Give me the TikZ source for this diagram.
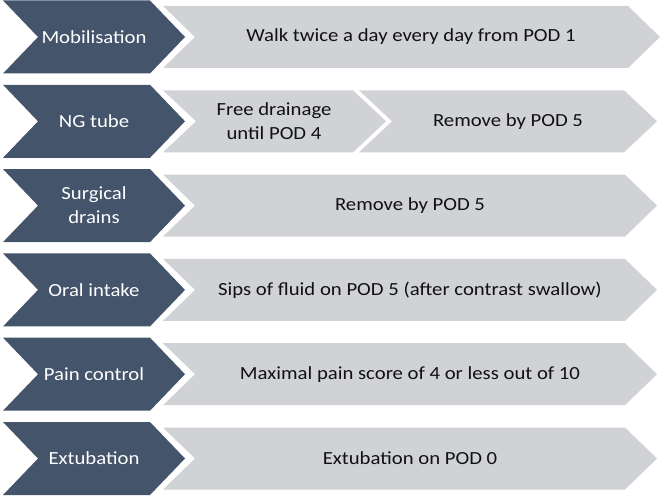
\documentclass[tikz,border=0pt]{standalone}
\usepackage{fontspec}
\setmainfont{Carlito}[FakeStretch=1.12]
\definecolor{navy}{HTML}{44546A}
\definecolor{lgray}{HTML}{D0D2D5}
\definecolor{ink}{HTML}{111111}
\newcommand\chev[6]{% colour, xl, xr, yc, half-height, depth
  \fill[#1] (#2,#4+#5) -- (#3-#6,#4+#5) -- (#3,#4) -- (#3-#6,#4-#5) -- (#2,#4-#5) -- (#2+#6,#4) -- cycle;}
\tikzset{
  lbl/.style={text=white, font=\fontsize{18.5}{24}\selectfont, align=center, inner sep=0pt},
  val/.style={text=ink, font=\fontsize{18.5}{24}\selectfont, align=center, inner sep=0pt}
}
\begin{document}
\begin{tikzpicture}[x=1pt,y=1pt]
\useasboundingbox (0,0) rectangle (660,496);
\foreach \i/\l in {0/Mobilisation,1/NG tube,2/{Surgical\\drains},3/Oral intake,4/Pain control,5/Extubation}{
  \pgfmathsetmacro\yc{496-37-84.3*\i}
  \chev{navy}{3}{185}{\yc}{36.5}{35}
  \node[lbl] (k\i) at (94,\yc) {\l};
}
% row 1
\pgfmathsetmacro\ya{496-37}
\chev{lgray}{163}{660}{\ya}{31}{32}
\node[val] (v0) at (411,\ya) {Walk twice a day every day from POD 1};
% row 2
\pgfmathsetmacro\yb{496-37-84.3}
\chev{lgray}{163}{386}{\yb}{31}{33}
\chev{lgray}{359}{657}{\yb}{31}{33}
\node[val] (v1a) at (274,\yb) {Free drainage\\until POD 4};
\node[val] (v1b) at (508,\yb) {Remove by POD 5};
% row 3
\pgfmathsetmacro\yc{496-37-84.3*2}
\chev{lgray}{163}{657}{\yc}{31}{32}
\node[val] (v2) at (410,\yc) {Remove by POD 5};
% row 4
\pgfmathsetmacro\yd{496-37-84.3*3}
\chev{lgray}{163}{657}{\yd}{31}{32}
\node[val] (v3) at (410,\yd) {Sips of fluid on POD 5 (after contrast swallow)};
% row 5
\pgfmathsetmacro\ye{496-37-84.3*4}
\chev{lgray}{163}{657}{\ye}{31}{32}
\node[val] (v4) at (410,\ye) {Maximal pain score of 4 or less out of 10};
% row 6
\pgfmathsetmacro\yf{496-37-84.3*5}
\chev{lgray}{163}{657}{\yf}{31}{32}
\node[val] (v5) at (410,\yf) {Extubation on POD 0};
\end{tikzpicture}
\end{document}
